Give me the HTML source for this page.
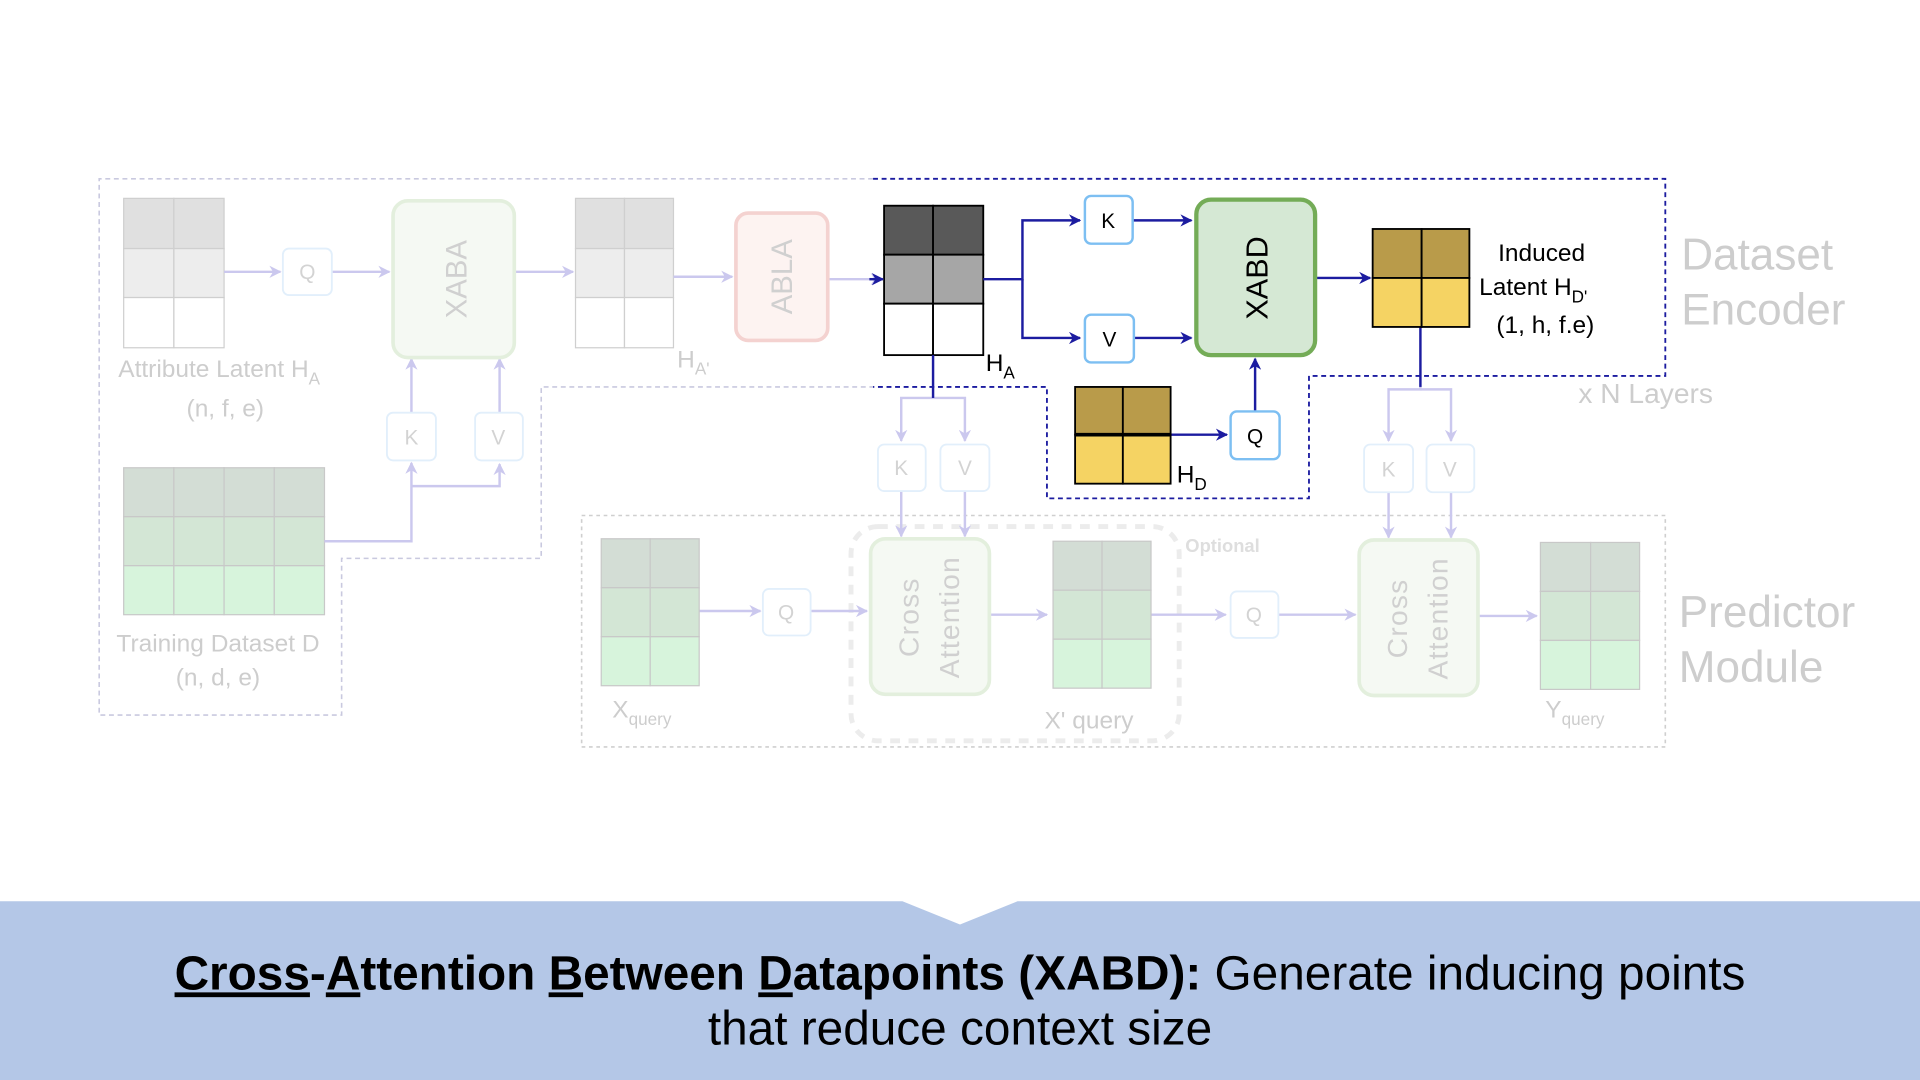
<!DOCTYPE html>
<html><head><meta charset="utf-8"><style>
html,body{margin:0;padding:0;background:#fff;width:1920px;height:1080px;overflow:hidden}
svg{display:block;font-family:"Liberation Sans",Arial,sans-serif}
text{font-family:"Liberation Sans",Arial,sans-serif}
</style></head><body>
<svg width="1920" height="1080" viewBox="0 0 1568 882" xmlns="http://www.w3.org/2000/svg" font-family="Liberation Sans, Arial, sans-serif">
<defs>
<marker id="fa" viewBox="0 0 10 10" refX="9" refY="5" markerWidth="5" markerHeight="5" orient="auto"><path d="M0,0 L10,5 L0,10 L3,5 z" fill="#cbc8ee"/></marker>
<marker id="ba" viewBox="0 0 10 10" refX="9" refY="5" markerWidth="5" markerHeight="5" orient="auto"><path d="M0,0 L10,5 L0,10 L3,5 z" fill="#1c1ca0"/></marker>
</defs>

<path d="M713,146 L81,146 L81,584 L279,584 L279,456 L442,456 L442,316 L713,316" fill="none" stroke="#c9c9df" stroke-width="1.3" stroke-dasharray="4,3"/>
<path d="M713,146 L1360,146 L1360,307 L1069,307 L1069,407 L855,407 L855,316 L713,316" fill="none" stroke="#1c1ca0" stroke-width="1.5" stroke-dasharray="4,3"/>
<rect x="475" y="421" width="885" height="189" fill="none" stroke="#cfcfcf" stroke-width="1.3" stroke-dasharray="3,3"/>
<rect x="695" y="430" width="268" height="175" rx="22" fill="none" stroke="#ececec" stroke-width="4" stroke-dasharray="8,7"/>

<g stroke="#cfcfcf" stroke-width="1">
<rect x="101" y="162" width="41" height="41" fill="#e0e0e0"/><rect x="142" y="162" width="41" height="41" fill="#e0e0e0"/>
<rect x="101" y="203" width="41" height="40" fill="#ededed"/><rect x="142" y="203" width="41" height="40" fill="#ededed"/>
<rect x="101" y="243" width="41" height="41" fill="#fff"/><rect x="142" y="243" width="41" height="41" fill="#fff"/>
<rect x="470" y="162" width="40" height="41" fill="#e0e0e0"/><rect x="510" y="162" width="40" height="41" fill="#e0e0e0"/>
<rect x="470" y="203" width="40" height="40" fill="#ededed"/><rect x="510" y="203" width="40" height="40" fill="#ededed"/>
<rect x="470" y="243" width="40" height="41" fill="#fff"/><rect x="510" y="243" width="40" height="41" fill="#fff"/>
</g>
<text x="179" y="308" font-size="20" fill="#cdcdcd" text-anchor="middle">Attribute Latent H<tspan font-size="14" dy="6">A</tspan></text>
<text x="184" y="340" font-size="20" fill="#cdcdcd" text-anchor="middle">(n, f, e)</text>
<text x="553" y="300" font-size="20" fill="#cdcdcd">H<tspan font-size="14" dy="6">A'</tspan></text>

<g stroke="#c8c8c8" stroke-width="1">
<rect x="101" y="382" width="41" height="40" fill="#d3ddd5"/><rect x="142" y="382" width="41" height="40" fill="#d3ddd5"/><rect x="183" y="382" width="41" height="40" fill="#d3ddd5"/><rect x="224" y="382" width="41" height="40" fill="#d3ddd5"/>
<rect x="101" y="422" width="41" height="40" fill="#d3e6d5"/><rect x="142" y="422" width="41" height="40" fill="#d3e6d5"/><rect x="183" y="422" width="41" height="40" fill="#d3e6d5"/><rect x="224" y="422" width="41" height="40" fill="#d3e6d5"/>
<rect x="101" y="462" width="41" height="40" fill="#d7f4dc"/><rect x="142" y="462" width="41" height="40" fill="#d7f4dc"/><rect x="183" y="462" width="41" height="40" fill="#d7f4dc"/><rect x="224" y="462" width="41" height="40" fill="#d7f4dc"/>
</g>
<text x="178" y="532" font-size="20" fill="#cdcdcd" text-anchor="middle">Training Dataset D</text>
<text x="178" y="560" font-size="20" fill="#cdcdcd" text-anchor="middle">(n, d, e)</text>

<g stroke="#cbc8ee" stroke-width="2" fill="none" marker-end="url(#fa)">
<line x1="183" y1="222" x2="229" y2="222"/>
<line x1="271" y1="222" x2="318" y2="222"/>
<line x1="420" y1="222" x2="468" y2="222"/>
<line x1="550" y1="226" x2="598" y2="226"/>
<line x1="676" y1="228" x2="720" y2="228"/>
<path d="M265,442 L336,442 L336,378"/>
<path d="M336,397 L408,397 L408,379"/>
<line x1="336" y1="337" x2="336" y2="293"/>
<line x1="408" y1="337" x2="408" y2="293"/>
<path d="M762,325 L736,325 L736,360"/>
<path d="M762,325 L788,325 L788,360"/>
<line x1="736" y1="401" x2="736" y2="438"/>
<line x1="788" y1="401" x2="788" y2="438"/>
<path d="M1160,316 L1160,318 L1134,318 L1134,360"/>
<path d="M1160,318 L1185,318 L1185,360"/>
<line x1="1134" y1="402" x2="1134" y2="439"/>
<line x1="1185" y1="402" x2="1185" y2="439"/>
<line x1="571" y1="499" x2="621" y2="499"/>
<line x1="662" y1="499" x2="708" y2="499"/>
<line x1="808" y1="502" x2="855" y2="502"/>
<line x1="940" y1="502" x2="1001" y2="502"/>
<line x1="1044" y1="502" x2="1107" y2="502"/>
<line x1="1207" y1="503" x2="1255" y2="503"/>
</g>

<g fill="#fff" stroke="#e2effb" stroke-width="1.5">
<rect x="231" y="203" width="40" height="38" rx="5"/>
<rect x="316" y="337" width="40" height="39" rx="5"/>
<rect x="388" y="337" width="39" height="39" rx="5"/>
<rect x="717" y="363" width="39" height="38" rx="5"/>
<rect x="768" y="363" width="40" height="38" rx="5"/>
<rect x="1114" y="363" width="40" height="39" rx="5"/>
<rect x="1165" y="363" width="39" height="39" rx="5"/>
<rect x="623" y="481" width="39" height="38" rx="5"/>
<rect x="1005" y="483" width="39" height="38" rx="5"/>
</g>
<g font-size="17" fill="#d3d3d3" text-anchor="middle">
<text x="251" y="228">Q</text><text x="336" y="363">K</text><text x="407" y="363">V</text>
<text x="736" y="388">K</text><text x="788" y="388">V</text>
<text x="1134" y="389">K</text><text x="1184" y="389">V</text>
<text x="642" y="506">Q</text><text x="1024" y="508">Q</text>
</g>

<rect x="321" y="164" width="99" height="128" rx="12" fill="#f5f9f3" stroke="#e3efdd" stroke-width="3"/>
<text transform="translate(381,228) rotate(-90)" font-size="24" fill="#d0d0d0" text-anchor="middle">XABA</text>
<rect x="601" y="174" width="75" height="104" rx="10" fill="#fdf3f1" stroke="#f4d2d0" stroke-width="3"/>
<text transform="translate(647,226) rotate(-90)" font-size="24" fill="#d0d0d0" text-anchor="middle">ABLA</text>

<rect x="711" y="440" width="97" height="127" rx="12" fill="#f5f9f3" stroke="#e3efdd" stroke-width="3"/>
<text transform="translate(750,504) rotate(-90)" font-size="23" fill="#d0d0d0" text-anchor="middle" letter-spacing="1">Cross</text>
<text transform="translate(783,504) rotate(-90)" font-size="23" fill="#d0d0d0" text-anchor="middle" letter-spacing="1">Attention</text>
<rect x="1110" y="441" width="97" height="127" rx="12" fill="#f5f9f3" stroke="#e3efdd" stroke-width="3"/>
<text transform="translate(1149,505) rotate(-90)" font-size="23" fill="#d0d0d0" text-anchor="middle" letter-spacing="1">Cross</text>
<text transform="translate(1182,505) rotate(-90)" font-size="23" fill="#d0d0d0" text-anchor="middle" letter-spacing="1">Attention</text>

<g stroke="#c8c8c8" stroke-width="1">
<rect x="491" y="440" width="40" height="40" fill="#d3ddd5"/><rect x="531" y="440" width="40" height="40" fill="#d3ddd5"/>
<rect x="491" y="480" width="40" height="40" fill="#d3e6d5"/><rect x="531" y="480" width="40" height="40" fill="#d3e6d5"/>
<rect x="491" y="520" width="40" height="40" fill="#d7f4dc"/><rect x="531" y="520" width="40" height="40" fill="#d7f4dc"/>
<rect x="860" y="442" width="40" height="40" fill="#d3ddd5"/><rect x="900" y="442" width="40" height="40" fill="#d3ddd5"/>
<rect x="860" y="482" width="40" height="40" fill="#d3e6d5"/><rect x="900" y="482" width="40" height="40" fill="#d3e6d5"/>
<rect x="860" y="522" width="40" height="40" fill="#d7f4dc"/><rect x="900" y="522" width="40" height="40" fill="#d7f4dc"/>
<rect x="1258" y="443" width="41" height="40" fill="#d3ddd5"/><rect x="1299" y="443" width="40" height="40" fill="#d3ddd5"/>
<rect x="1258" y="483" width="41" height="40" fill="#d3e6d5"/><rect x="1299" y="483" width="40" height="40" fill="#d3e6d5"/>
<rect x="1258" y="523" width="41" height="40" fill="#d7f4dc"/><rect x="1299" y="523" width="40" height="40" fill="#d7f4dc"/>
</g>
<text x="500" y="586" font-size="20" fill="#cdcdcd">X<tspan font-size="14" dy="6">query</tspan></text>
<text x="853" y="595" font-size="20" fill="#cdcdcd">X' query</text>
<text x="1262" y="586" font-size="20" fill="#cdcdcd">Y<tspan font-size="14" dy="6">query</tspan></text>
<text x="968" y="451" font-size="15" font-weight="bold" fill="#dedede">Optional</text>

<text x="1373" y="220" font-size="36" fill="#cdcdcd">Dataset</text>
<text x="1373" y="265" font-size="36" fill="#cdcdcd">Encoder</text>
<text x="1289" y="329" font-size="23" fill="#cdcdcd">x N Layers</text>
<text x="1371" y="512" font-size="36" fill="#cdcdcd">Predictor</text>
<text x="1371" y="557" font-size="36" fill="#cdcdcd">Module</text>

<g stroke="#000" stroke-width="1.5">
<rect x="722" y="168" width="40" height="40" fill="#595959"/><rect x="762" y="168" width="41" height="40" fill="#595959"/>
<rect x="722" y="208" width="40" height="40" fill="#a6a6a6"/><rect x="762" y="208" width="41" height="40" fill="#a6a6a6"/>
<rect x="722" y="248" width="40" height="42" fill="#fff"/><rect x="762" y="248" width="41" height="42" fill="#fff"/>
</g>
<text x="805" y="303" font-size="20" fill="#000">H<tspan font-size="14" dy="6">A</tspan></text>

<g stroke="#1c1ca0" stroke-width="2" fill="none">
<line x1="762" y1="290" x2="762" y2="325"/>
<path d="M803,228 L835,228 L835,180 L882,180" marker-end="url(#ba)"/>
<path d="M835,228 L835,276 L882,276" marker-end="url(#ba)"/>
<line x1="925" y1="180" x2="973" y2="180" marker-end="url(#ba)"/>
<line x1="926" y1="276" x2="973" y2="276" marker-end="url(#ba)"/>
<line x1="1074" y1="227" x2="1119" y2="227" marker-end="url(#ba)"/>
<line x1="956" y1="355" x2="1002" y2="355" marker-end="url(#ba)"/>
<line x1="1025" y1="336" x2="1025" y2="293" marker-end="url(#ba)"/>
<line x1="1160" y1="267" x2="1160" y2="316"/>
<line x1="710" y1="228" x2="721" y2="228" marker-end="url(#ba)"/>
</g>

<g fill="#fff" stroke="#7dbff2" stroke-width="2">
<rect x="886" y="160" width="39" height="39" rx="5"/>
<rect x="886" y="257" width="40" height="39" rx="5"/>
<rect x="1005" y="336" width="40" height="39" rx="5"/>
</g>
<g font-size="17" fill="#000" text-anchor="middle">
<text x="905" y="186">K</text><text x="906" y="283">V</text><text x="1025" y="362">Q</text>
</g>

<rect x="977" y="163" width="97" height="127" rx="12" fill="#d5e8d4" stroke="#74ac57" stroke-width="3.5"/>
<text transform="translate(1035,227) rotate(-90)" font-size="25" fill="#000" text-anchor="middle">XABD</text>

<g stroke="#000" stroke-width="1.5">
<rect x="1121" y="187" width="40" height="40" fill="#b99b4a"/><rect x="1161" y="187" width="39" height="40" fill="#b99b4a"/>
<rect x="1121" y="227" width="40" height="40" fill="#f5d363"/><rect x="1161" y="227" width="39" height="40" fill="#f5d363"/>
<rect x="878" y="316" width="39" height="39" fill="#b99b4a"/><rect x="917" y="316" width="39" height="39" fill="#b99b4a"/>
<rect x="878" y="355" width="39" height="40" fill="#f5d363"/><rect x="917" y="355" width="39" height="40" fill="#f5d363"/>
</g>
<line x1="878" y1="355" x2="956" y2="355" stroke="#000" stroke-width="3"/>
<text x="961" y="394" font-size="20" fill="#000">H<tspan font-size="14" dy="6">D</tspan></text>
<text x="1259" y="213" font-size="20" fill="#000" text-anchor="middle">Induced</text>
<text x="1208" y="241" font-size="20" fill="#000">Latent H<tspan font-size="14" dy="6">D'</tspan></text>
<text x="1262" y="272" font-size="20" fill="#000" text-anchor="middle">(1, h, f.e)</text>

<path d="M0,736 L737,736 L784,755 L831,736 L1568,736 L1568,882 L0,882 Z" fill="#b4c7e7"/>
<text x="784" y="808" font-size="39" fill="#000" text-anchor="middle"><tspan font-weight="bold"><tspan text-decoration="underline">Cross</tspan>-<tspan text-decoration="underline">A</tspan>ttention <tspan text-decoration="underline">B</tspan>etween <tspan text-decoration="underline">D</tspan>atapoints (XABD):</tspan> Generate inducing points</text>
<text x="784" y="853" font-size="39" fill="#000" text-anchor="middle">that reduce context size</text>
</svg>
</body></html>
